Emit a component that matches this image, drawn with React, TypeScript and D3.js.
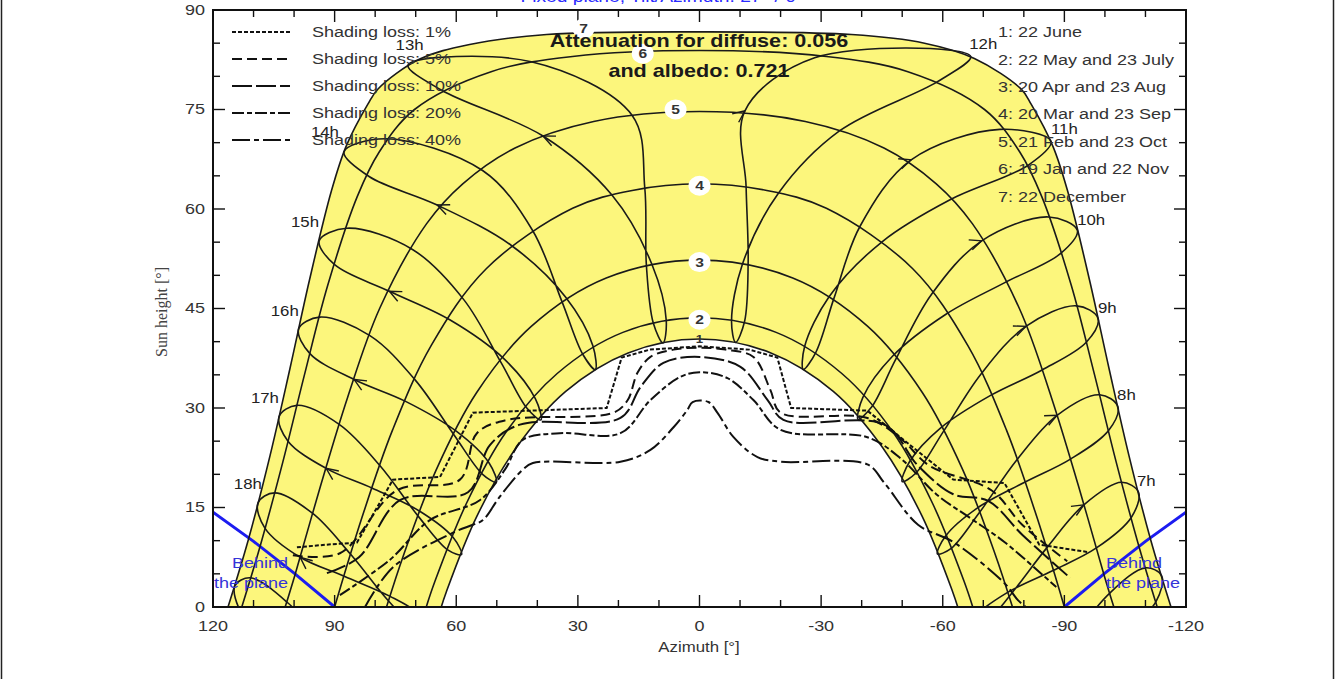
import React from "react";
import * as d3 from "d3";

type P = [number, number]; // [azimuth °, sun height °]

// date curves, west horizon -> east horizon
const jun22: P[] = [[63.7,0],[62.5,2.2],[54.9,13.7],[45.2,24.0],[33.0,32.5],[17.6,38.3],[0,40.4],[-17.6,38.3],[-33.0,32.5],[-45.2,24.0],[-54.9,13.7],[-62.5,2.2],[-63.7,0]];
const may22: P[] = [[67.4,0],[65.3,3.8],[57.5,15.6],[47.8,26.3],[35.1,35.2],[18.9,41.4],[0,43.6],[-18.9,41.4],[-35.1,35.2],[-47.8,26.3],[-57.5,15.6],[-65.3,3.8],[-67.4,0]];
const apr20: P[] = [[77.2,0],[72.9,8.0],[65.0,20.6],[55.0,32.3],[41.5,42.3],[23.0,49.6],[0,52.3],[-23.0,49.6],[-41.5,42.3],[-55.0,32.3],[-65.0,20.6],[-72.9,8.0],[-77.2,0]];
const mar20: P[] = [[90,0],[83.3,13.4],[75.7,26.7],[66.2,39.4],[52.6,51.0],[31.3,60.1],[16.6,62.8],[0,63.8],[-16.6,62.8],[-31.3,60.1],[-52.6,51.0],[-66.2,39.4],[-75.7,26.7],[-83.3,13.4],[-90,0]];
const feb21: P[] = [[102.2,0],[99.8,4.8],[93.5,18.2],[86.8,31.6],[78.9,45.0],[67.3,57.8],[58.4,63.8],[45.5,69.2],[26.1,73.2],[0,74.7],[-26.1,73.2],[-45.5,69.2],[-58.4,63.8],[-67.3,57.8],[-78.9,45.0],[-86.8,31.6],[-93.5,18.2],[-99.8,4.8],[-102.2,0]];
const jan19: P[] = [[112.9,0],[108.5,8.9],[102.8,21.8],[97.4,35.1],[91.7,48.5],[84.4,61.9],[79.0,68.6],[70.3,75.0],[51.4,80.7],[31.3,83.0],[0,83.9],[-31.3,83.0],[-51.4,80.7],[-70.3,75.0],[-79.0,68.6],[-84.4,61.9],[-91.7,48.5],[-97.4,35.1],[-102.8,21.8],[-108.5,8.9],[-112.9,0]];
const dec22: P[] = [[116.3,0],[111.3,10.1],[105.9,22.9],[101.0,36.0],[96.2,49.3],[90.8,62.7],[87.2,69.4],[81.8,75.8],[79.3,78.1],[69.0,82.6],[56.7,84.8],[37.7,86.3],[0,86.7],[-37.5,86.3],[-55.5,85.0],[-67.8,82.7],[-79.3,78.1],[-81.8,75.8],[-87.2,69.4],[-90.8,62.7],[-96.2,49.3],[-101.0,36.0],[-105.9,22.9],[-111.3,10.1],[-116.3,0]];
const dateCurves = [jun22, may22, apr20, mar20, feb21, jan19, dec22];

// hour lines (legal time), one point per month: Dec Jan Feb Mar Apr May Jun Jul Aug Sep Oct Nov
const h7: P[] = [[-108.3,17.3],[-106.5,13.5],[-97.9,8.9],[-87.2,5.5],[-76.0,2.2],[-68.0,-1.4],[-65.7,-3.9],[-69.3,-3.3],[-76.4,1.6],[-85.5,8.8],[-94.8,15.4],[-104.1,18.8]];
const h8: P[] = [[-103.2,30.2],[-100.9,26.6],[-91.5,22.3],[-80.2,18.8],[-68.5,14.9],[-60.7,10.7],[-58.7,8.0],[-62.0,8.8],[-69.0,14.2],[-78.3,22.2],[-88.2,28.9],[-98.7,32.0]];
const h9: P[] = [[-98.3,43.5],[-95.4,39.9],[-84.4,35.7],[-71.8,31.9],[-59.5,27.0],[-51.8,21.9],[-50.0,18.9],[-53.4,20.2],[-60.1,26.4],[-69.4,35.1],[-80.5,42.3],[-93.0,45.4]];
const h10: P[] = [[-93.2,56.8],[-89.1,53.3],[-75.3,48.9],[-60.7,44.1],[-47.6,37.8],[-40.3,31.6],[-39.1,28.3],[-42.4,30.1],[-48.3,37.2],[-57.2,47.1],[-69.6,55.2],[-86.1,58.8]];
const h11: P[] = [[-86.7,70.2],[-81.3,66.7],[-61.8,61.4],[-45.1,55.1],[-32.0,46.8],[-25.9,39.2],[-25.6,35.8],[-28.7,38.4],[-33.2,46.6],[-39.6,57.4],[-52.2,67.4],[-74.1,72.0]];
const h12: P[] = [[-66.9,83.0],[-58.7,79.2],[-34.6,71.8],[-19.5,62.4],[-10.6,51.7],[-7.9,43.1],[-8.9,39.9],[-11.1,43.0],[-12.0,51.9],[-11.5,63.3],[-11.2,74.8],[-28.4,82.8]];
const h13: P[] = [[71.9,81.7],[41.5,82.2],[16.6,74.1],[13.5,63.2],[13.1,51.5],[11.4,42.8],[9.0,39.8],[8.2,43.2],[11.7,51.6],[21.6,62.1],[38.6,71.0],[63.6,77.9]];
const h14: P[] = [[87.7,68.6],[77.5,70.6],[53.5,65.8],[41.2,56.8],[33.9,46.0],[28.8,38.1],[25.7,35.8],[26.3,39.4],[33.0,46.7],[46.4,54.5],[64.7,60.6],[81.5,64.9]];
const h15: P[] = [[93.8,55.2],[87.0,57.1],[70.8,53.9],[58.1,46.3],[48.9,36.8],[42.6,30.0],[39.1,28.2],[40.5,31.4],[48.2,37.4],[61.6,43.3],[76.5,47.6],[90.0,51.6]];
const h16: P[] = [[98.9,41.9],[93.7,43.7],[81.3,40.9],[70.1,34.2],[60.5,25.9],[53.5,20.0],[50.1,18.8],[51.9,21.7],[60.0,26.5],[72.5,31.0],[85.2,34.3],[96.1,38.2]];
const h17: P[] = [[103.7,28.7],[99.3,30.4],[88.8,27.5],[78.8,21.3],[69.4,13.7],[62.1,8.6],[58.7,7.9],[60.8,10.5],[68.9,14.4],[80.7,17.9],[92.1,20.9],[101.5,25.0]];
const h18: P[] = [[108.9,15.7],[104.8,17.2],[95.4,14.1],[86.0,7.9],[76.7,0.9],[69.1,-3.6],[65.8,-3.9],[68.3,-1.4],[76.3,1.6],[87.5,4.6],[98.5,7.5],[107.2,11.9]];
const hourLoops = [h7, h8, h9, h10, h11, h12, h13, h14, h15, h16, h17, h18];
// hours that only graze the horizon (Sep/Oct .. Feb/Mar)
const h6: P[] = [[-92.3,-4.6],[-101.2,2.1],[-110.0,5.9],[-114.0,4.7],[-112.6,0.8],[-104.1,-4.5]];
const h19: P[] = [[105.5,-5.5],[113.0,-0.9],[114.6,3.2],[110.8,4.4],[101.5,0.6],[92.7,-5.5]];

const hourNames = ["13h","14h","15h","16h","17h","18h","12h","11h","10h","9h","8h","7h"];
const hourLabelAt: P[] = [[71.5,84.7],[92.4,71.6],[97.3,58.1],[102.3,44.6],[107.2,31.5],[111.4,18.6],[-70.0,84.9],[-90.0,72.1],[-96.6,58.4],[-100.6,45.0],[-105.3,31.9],[-110.2,19.0]];

// iso-shading lines, west -> east
const loss1: P[] = [[99.3,9.0],[92.0,9.4],[84.5,9.7],[75.6,19.2],[64.0,19.6],[55.9,29.3],[22.9,30.0],[19.2,37.6],[12.3,38.8],[0,39.3],[-12.3,38.8],[-19.2,37.6],[-22.6,30.0],[-41.4,29.6],[-62.6,19.2],[-75.2,18.7],[-83.8,9.4],[-95.6,8.3]];
const loss5: P[] = [[100.3,7.8],[88.7,8.1],[74.6,17.6],[59.1,19.2],[54.9,26.2],[47.5,28.2],[21.2,29.3],[17.7,31.2],[15.3,35.3],[12.1,37.7],[6.4,38.8],[0,39.1],[-6.4,38.8],[-13.3,37.7],[-17.5,32.7],[-20.0,29.3],[-41.4,28.5],[-49.8,25.3],[-56.7,21.3],[-72.0,17.6],[-79.6,12.4],[-90.7,6.9]];
const loss10: P[] = [[91.9,5.1],[84.0,7.5],[73.9,16.1],[57.1,17.3],[51.7,24.4],[44.3,27.5],[19.5,28.5],[14.5,33.2],[8.9,36.8],[0,37.7],[-10.1,36.2],[-16.8,31.2],[-20.7,28.2],[-45.6,27.5],[-53.9,21.3],[-62.6,17.0],[-71.2,16.0],[-79.6,10.9],[-91.4,4.4]];
const loss20: P[] = [[88.7,1.8],[76.4,7.1],[66.5,13.1],[54.2,16.1],[48.0,20.7],[43.6,25.2],[34.5,26.2],[19.5,26.2],[12.1,31.2],[4.7,34.7],[0,35.4],[-6.9,34.5],[-13.3,31.2],[-20.0,26.7],[-41.4,25.6],[-49.8,22.3],[-58.4,17.0],[-66.8,13.4],[-75.2,9.8],[-88.0,3.0]];
const loss40: P[] = [[82.5,0],[75.6,6.0],[60.8,11.2],[55.9,12.4],[53.4,13.1],[49.3,16.6],[43.6,20.7],[41.1,21.7],[19.5,21.9],[12.1,23.7],[6.4,27.1],[3.0,29.7],[1.7,30.9],[-2.2,30.9],[-4.4,29.3],[-8.4,25.6],[-14.3,22.6],[-20.0,21.9],[-41.4,21.5],[-45.6,18.7],[-53.9,12.4],[-62.6,9.8],[-75.2,3.6],[-78.6,1.0],[-80.5,0]];
const lossCurves = [loss1, loss5, loss10, loss20, loss40];
const lossNames = ["Shading loss: 1%","Shading loss: 5%","Shading loss: 10%","Shading loss: 20%","Shading loss: 40%"];
const lossDash = ["4,2","10,5","20,4","12,3,5,3","18,4,5,4"];

const behindWest: P[] = [[120,14.3],[110,9.9],[100,5.1],[90,0]];
const behindEast: P[] = [[-90,0],[-100,5.1],[-110,9.9],[-120,14.3]];

const dateNames = ["1: 22 June","2: 22 May and 23 July","3: 20 Apr and 23 Aug","4: 20 Mar and 23 Sep","5: 21 Feb and 23 Oct","6: 19 Jan and 22 Nov","7: 22 December"];
const dateLabelAt: P[] = [[0,40.3],[0,43.3],[0,52.0],[0,63.5],[5.9,75.0],[14.0,83.4],[28.6,87.2]];

const xTicks = d3.range(-120, 121, 10);
const yTicks = d3.range(0, 91, 5);

const SX = 1.2;
const SANS = "'Liberation Sans', Arial, Helvetica, sans-serif";

const x = d3.scaleLinear().domain([120, -120]).range([213, 1186]);
const y = d3.scaleLinear().domain([0, 90]).range([607, 10]);

const open = d3.line<P>().x(d => x(d[0])).y(d => y(d[1])).curve(d3.curveCatmullRom.alpha(0.5));
const closed = d3.line<P>().x(d => x(d[0])).y(d => y(d[1])).curve(d3.curveCatmullRomClosed.alpha(0.5));
const straight = d3.line<P>().x(d => x(d[0])).y(d => y(d[1]));

function T(props: any) {
  const { px, py, size = 15, anchor = "start", weight = "normal", fill = "#222", children, family = SANS } = props;
  return (
    <g transform={`translate(${px},${py}) scale(${SX},1)`}>
      <text textAnchor={anchor} dominantBaseline="central" fontSize={size} fontWeight={weight} fill={fill} fontFamily={family}>{children}</text>
    </g>
  );
}

// open arrowhead at point i, pointing towards point i+1
function arrow(line: P[], i: number) {
  const [ax, ay] = [x(line[i][0]), y(line[i][1])];
  const [bx, by] = [x(line[i + 1][0]), y(line[i + 1][1])];
  const a = Math.atan2(by - ay, bx - ax);
  const L = 13, s = 0.42;
  const p1 = [ax - L * Math.cos(a - s), ay - L * Math.sin(a - s)];
  const p2 = [ax - L * Math.cos(a + s), ay - L * Math.sin(a + s)];
  return `M${p1[0]},${p1[1]}L${ax},${ay}L${p2[0]},${p2[1]}`;
}

export default function App() {
  const yellow = open(dec22) + open(jun22.slice().reverse())!.replace(/^M/, "L") + "Z";
  const [L, R, Tp, B] = [213, 1186, 10, 607];
  return (
    <svg width={1335} height={679} style={{ position: "absolute", left: 0, top: 0, background: "#fff" }}>
      <defs>
        <clipPath id="plot"><rect x={L} y={Tp} width={R - L} height={B - Tp} /></clipPath>
      </defs>
      <rect x={1.5} y={-5} width={1332} height={690} fill="none" stroke="#222" strokeWidth={1.5} />
      <T px={662} py={-3} size={16} fill="#2a2aff" anchor="middle">Fixed plane, Tilt/Azimuth: 27° / 0°</T>

      <g clipPath="url(#plot)">
        <path d={yellow} fill="#fcf67c" />
        <path d={straight(behindWest)!} stroke="#1c1cf0" strokeWidth={3} fill="none" />
        <path d={straight(behindEast)!} stroke="#1c1cf0" strokeWidth={3} fill="none" />
        {dateCurves.map((c, i) => <path key={i} d={open(c)!} fill="none" stroke="#1a1a1a" strokeWidth={1.6} />)}
        {hourLoops.map((c, i) => <path key={i} d={closed(c)!} fill="none" stroke="#1a1a1a" strokeWidth={1.6} />)}
        <path d={open(h6)!} fill="none" stroke="#1a1a1a" strokeWidth={1.6} />
        <path d={open(h19)!} fill="none" stroke="#1a1a1a" strokeWidth={1.6} />
        {hourLoops.map((c, i) => <path key={i} d={arrow(c, 10)} fill="none" stroke="#1a1a1a" strokeWidth={1.4} />)}
        {lossCurves.map((c, i) => <path key={i} d={(i === 0 ? straight(c) : open(c))!} fill="none" stroke="#111" strokeWidth={2} strokeDasharray={lossDash[i]} />)}
      </g>

      <rect x={L} y={Tp} width={R - L} height={B - Tp} fill="none" stroke="#111" strokeWidth={2} />
      {xTicks.map(t => {
        const len = t % 30 === 0 ? 12 : 7;
        return <g key={t}>
          <line x1={x(t)} x2={x(t)} y1={B} y2={B - len} stroke="#111" strokeWidth={1.4} />
          <line x1={x(t)} x2={x(t)} y1={Tp} y2={Tp + len} stroke="#111" strokeWidth={1.4} />
        </g>;
      })}
      {yTicks.map(t => {
        const len = t % 15 === 0 ? 12 : 7;
        return <g key={t}>
          <line x1={L} x2={L + len} y1={y(t)} y2={y(t)} stroke="#111" strokeWidth={1.4} />
          <line x1={R} x2={R - len} y1={y(t)} y2={y(t)} stroke="#111" strokeWidth={1.4} />
        </g>;
      })}
      {xTicks.filter(t => t % 30 === 0).map(t => <T key={t} px={x(t)} py={626} anchor="middle" fill="#333">{t}</T>)}
      {yTicks.filter(t => t % 15 === 0).map(t => <T key={t} px={205} py={y(t)} anchor="end" fill="#333">{t}</T>)}
      <T px={699} py={647} anchor="middle" size={14} fill="#333">Azimuth [°]</T>
      <g transform="translate(161,312) rotate(-90)">
        <text textAnchor="middle" dominantBaseline="central" fontSize={16} fill="#444" fontFamily="'Liberation Serif', 'Times New Roman', serif">Sun height [°]</text>
      </g>

      {hourNames.map((n, i) => <T key={n} px={x(hourLabelAt[i][0])} py={y(hourLabelAt[i][1])} anchor="middle" size={14} fill="#222">{n}</T>)}

      {dateLabelAt.map((p, i) => <g key={i}>
        <ellipse cx={x(p[0])} cy={y(p[1])} rx={i === 0 ? 0 : 11} ry={i === 0 ? 0 : 10} fill="#fff" />
        <T px={x(p[0])} py={y(p[1])} anchor="middle" size={i === 0 ? 11 : 13} weight="bold" fill="#333">{i + 1}</T>
      </g>)}

      <T px={288} py={563} size={15} fill="#3434d8" anchor="end">Behind</T>
      <T px={288} py={583} size={15} fill="#3434d8" anchor="end">the plane</T>
      <T px={1106} py={563} size={15} fill="#3434d8">Behind</T>
      <T px={1106} py={583} size={15} fill="#3434d8">the plane</T>

      {lossNames.map((n, i) => {
        const ly = [32, 59, 86, 113, 140][i];
        return <g key={n}>
          <line x1={232} x2={290} y1={ly} y2={ly} stroke="#111" strokeWidth={2.2} strokeDasharray={lossDash[i]} />
          <T px={312} py={ly} size={15} fill="#333">{n}</T>
        </g>;
      })}
      {dateNames.map((n, i) => <T key={n} px={998} py={[32, 60, 87, 114, 142, 169, 197][i]} size={15} fill="#333">{n}</T>)}

      <T px={699} py={41} anchor="middle" size={18} weight="bold" fill="#1a1a1a">Attenuation for diffuse: 0.056</T>
      <T px={699} py={71} anchor="middle" size={18} weight="bold" fill="#1a1a1a">and albedo: 0.721</T>
    </svg>
  );
}
